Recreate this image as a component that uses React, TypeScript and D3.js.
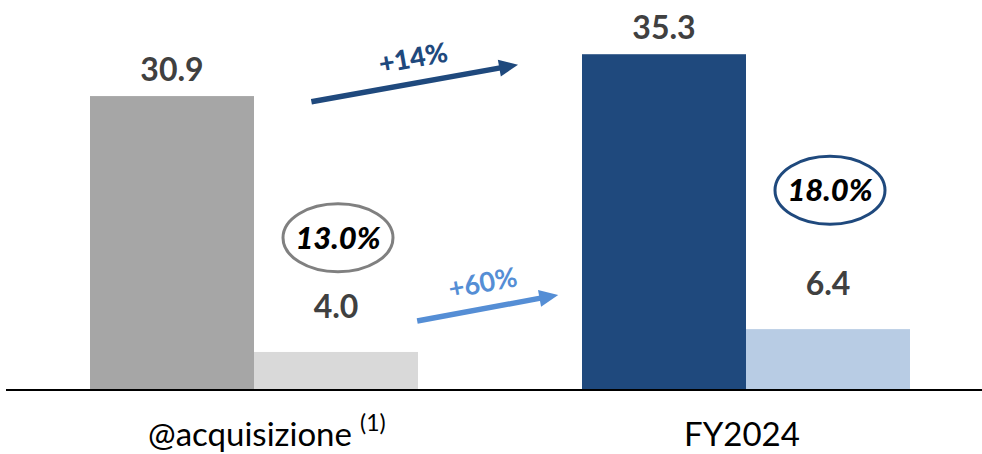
import * as d3 from "d3";

const groups = ["@acquisizione", "FY2024"];
const groupNotes = ["(1)", ""];
const seriesKeys = ["primary", "secondary"];
const primaryValues = [30.9, 35.3];
const secondaryValues = [4.0, 6.4];
const primaryColors = ["#a6a6a6", "#1f497d"];
const secondaryColors = ["#d9d9d9", "#b8cce4"];
const marginPct = ["13.0%", "18.0%"];
const marginPctLevel = [16.0, 21.0];
const growthLabels = ["+14%", "+60%"];

export default function App() {
  const width = 982;
  const height = 454;
  const baseline = 390;

  const x0 = d3.scaleBand<string>()
    .domain(groups)
    .range([8, 992])
    .paddingInner(1 / 3)
    .paddingOuter(1 / 6);

  const x1 = d3.scaleBand<string>()
    .domain(seriesKeys)
    .range([0, x0.bandwidth()])
    .padding(0);

  const y = d3.scaleLinear().domain([0, 41]).range([baseline, 0]);

  // horizontal position across the plotted bars, used for the annotations
  const xPos = d3.scaleLinear()
    .domain([0, 1])
    .range([x0(groups[0]) ?? 0, (x0(groups[1]) ?? 0) + x0.bandwidth()]);

  const bars = groups.flatMap((g, i) => [
    { g, key: "primary", value: primaryValues[i], color: primaryColors[i], gap: 15 },
    { g, key: "secondary", value: secondaryValues[i], color: secondaryColors[i], gap: 34 },
  ]);

  const arrows = [
    { from: [0.27, 30.3], to: [0.522, 34.2], label: growthLabels[0], at: [0.394, 34.9], color: "#1f497d", weight: 900 },
    { from: [0.399, 7.25], to: [0.571, 10.0], label: growthLabels[1], at: [0.479, 11.25], color: "#558ed5", weight: 700 },
  ];

  const font = "Lato, 'Open Sans', sans-serif";

  return (
    <svg width={width} height={height} style={{ position: "absolute", left: 0, top: 0 }} fontFamily={font}>
      {/* Bars */}
      {bars.map(b => {
        const bx = (x0(b.g) ?? 0) + (x1(b.key) ?? 0);
        return (
          <g key={b.g + b.key}>
            <rect x={bx} y={y(b.value)} width={x1.bandwidth()} height={baseline - y(b.value)} fill={b.color} />
            <text x={bx + x1.bandwidth() / 2} y={y(b.value) - b.gap} textAnchor="middle"
              fontSize={32} fontWeight={700} fill="#404040">
              {d3.format(".1f")(b.value)}
            </text>
          </g>
        );
      })}

      {/* Axis line */}
      <line x1={6} x2={982} y1={baseline} y2={baseline} stroke="#000" strokeWidth={2} />

      {/* Category labels */}
      {groups.map((g, i) => {
        const cx = (x0(g) ?? 0) + x0.bandwidth() / 2;
        return (
          <g key={g}>
            <text x={cx - 4} y={446} textAnchor="middle" fontSize={33} fill="#000">{g}</text>
            {groupNotes[i] && (
              <text x={cx + 106} y={431} fontSize={23} fill="#000">{groupNotes[i]}</text>
            )}
          </g>
        );
      })}

      {/* Margin ellipses */}
      {groups.map((g, i) => {
        const cx = (x0(g) ?? 0) + (x1("secondary") ?? 0) + x1.bandwidth() / 2 + 2;
        const cy = y(marginPctLevel[i]);
        return (
          <g key={"e" + g}>
            <ellipse cx={cx} cy={cy} rx={55} ry={34} fill="none"
              stroke={i === 0 ? "#808080" : "#1f497d"} strokeWidth={3} />
            <text x={cx} y={cy + 11} textAnchor="middle" fontSize={31} fontWeight={900}
              fontStyle="italic" fill="#000">{marginPct[i]}</text>
          </g>
        );
      })}

      {/* Growth arrows */}
      {arrows.map(a => {
        const xa = xPos(a.from[0]), ya = y(a.from[1]);
        const xb = xPos(a.to[0]), yb = y(a.to[1]);
        const ang = Math.atan2(yb - ya, xb - xa);
        const deg = (ang * 180) / Math.PI;
        const len = Math.hypot(xb - xa, yb - ya);
        const head = 19;
        const tx = xPos(a.at[0]), ty = y(a.at[1]);
        return (
          <g key={a.label}>
            <g transform={`translate(${xa},${ya}) rotate(${deg})`}>
              <line x1={0} x2={len - head + 1} y1={0} y2={0} stroke={a.color} strokeWidth={5.5} />
              <polygon points={`${len},0 ${len - head},-8.5 ${len - head},8.5`} fill={a.color} />
            </g>
            <text transform={`translate(${tx},${ty}) rotate(${deg})`} textAnchor="middle" dy="0.35em"
              fontSize={27} fontWeight={a.weight} fill={a.color}>{a.label}</text>
          </g>
        );
      })}
    </svg>
  );
}
